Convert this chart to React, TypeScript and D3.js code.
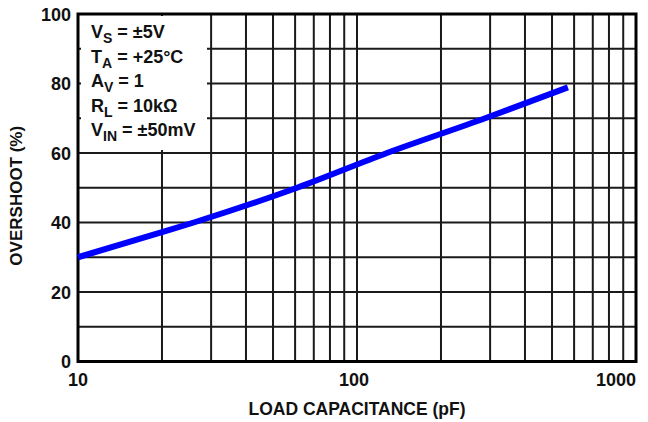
import { useEffect, useRef } from "react";
import * as d3 from "d3";

// load capacitance (pF) vs overshoot (%)
const capacitance = [10, 20, 26, 61, 128, 288, 570];
const overshoot = [30, 37.2, 40, 50, 60, 70, 78.9];

const xTicks = [10, 100, 1000];
const yTicks = [0, 20, 40, 60, 80, 100];
const yMinor = [10, 30, 50, 70, 90];
const xGrid = [20, 30, 40, 50, 60, 70, 80, 90, 200, 300, 400, 500, 600, 700, 800, 900];

const conditions = [
  { main: "V", sub: "S", rest: " = ±5V" },
  { main: "T", sub: "A", rest: " = +25°C" },
  { main: "A", sub: "V", rest: " = 1" },
  { main: "R", sub: "L", rest: " = 10kΩ" },
  { main: "V", sub: "IN", rest: " = ±50mV" },
];

export default function App() {
  const ref = useRef<SVGSVGElement>(null);

  useEffect(() => {
    const svg = d3.select(ref.current);
    svg.selectAll("*").remove();

    const left = 78;
    const right = 636;
    const top = 14;
    const bottom = 361.5;
    const font = "'Liberation Sans', Arial, sans-serif";

    const x = d3.scaleLog().domain([10, 1000]).range([left, right]);
    const y = d3.scaleLinear().domain([0, 100]).range([bottom, top]);

    const g = svg.append("g");

    // grid
    g.selectAll("line.vg")
      .data(xGrid.concat([100]))
      .enter()
      .append("line")
      .attr("x1", (d) => x(d))
      .attr("x2", (d) => x(d))
      .attr("y1", top)
      .attr("y2", bottom)
      .attr("stroke", "#1a1a1a")
      .attr("stroke-width", 2);

    g.selectAll("line.hg")
      .data(yTicks.slice(1, -1).concat(yMinor))
      .enter()
      .append("line")
      .attr("x1", left)
      .attr("x2", right)
      .attr("y1", (d) => y(d))
      .attr("y2", (d) => y(d))
      .attr("stroke", "#1a1a1a")
      .attr("stroke-width", 2);

    // conditions box (covers the grid)
    g.append("rect")
      .attr("x", left + 3)
      .attr("y", top + 2)
      .attr("width", 126)
      .attr("height", 134)
      .attr("fill", "#fff");

    const txt = g
      .append("g")
      .attr("font-family", font)
      .attr("font-weight", "bold")
      .attr("font-size", 18)
      .attr("fill", "#111");
    conditions.forEach((c, i) => {
      const t = txt.append("text").attr("x", 91).attr("y", 38 + i * 24.5);
      t.append("tspan").text(c.main);
      t.append("tspan").attr("font-size", 14).attr("dy", 5).text(c.sub);
      t.append("tspan").attr("dy", -5).text(c.rest);
    });

    // frame
    g.append("rect")
      .attr("x", left)
      .attr("y", top)
      .attr("width", right - left)
      .attr("height", bottom - top)
      .attr("fill", "none")
      .attr("stroke", "#000")
      .attr("stroke-width", 3);

    // curve
    const line = d3
      .line<number>()
      .x((_, i) => x(capacitance[i]))
      .y((d) => y(d))
      .curve(d3.curveMonotoneX);
    g.append("path")
      .attr("d", line(overshoot))
      .attr("fill", "none")
      .attr("stroke", "#0000ff")
      .attr("stroke-width", 6);

    // tick labels
    const lab = g
      .append("g")
      .attr("font-family", font)
      .attr("font-weight", "bold")
      .attr("font-size", 18)
      .attr("fill", "#111");
    lab
      .selectAll("text.y")
      .data(yTicks)
      .enter()
      .append("text")
      .attr("x", 71)
      .attr("y", (d) => y(d) + 6.5)
      .attr("text-anchor", "end")
      .text((d) => d);
    lab
      .selectAll("text.x")
      .data(xTicks)
      .enter()
      .append("text")
      .attr("x", (d, i) => (i === xTicks.length - 1 ? x(d) : x(d) - (i ? 3 : 0)))
      .attr("y", 386)
      .attr("text-anchor", (d, i) => (i === xTicks.length - 1 ? "end" : "middle"))
      .text((d) => d);

    // axis titles
    lab
      .append("text")
      .attr("x", 357)
      .attr("y", 415)
      .attr("text-anchor", "middle")
      .attr("font-size", 17.5)
      .text("LOAD CAPACITANCE (pF)");
    lab
      .append("text")
      .attr("transform", `translate(22, ${(top + bottom) / 2 + 8}) rotate(-90)`)
      .attr("text-anchor", "middle")
      .attr("font-size", 17)
      .text("OVERSHOOT (%)");
  }, []);

  return (
    <svg
      ref={ref}
      width={648}
      height={422}
      style={{ position: "absolute", left: 0, top: 0, background: "#fff" }}
    ></svg>
  );
}
